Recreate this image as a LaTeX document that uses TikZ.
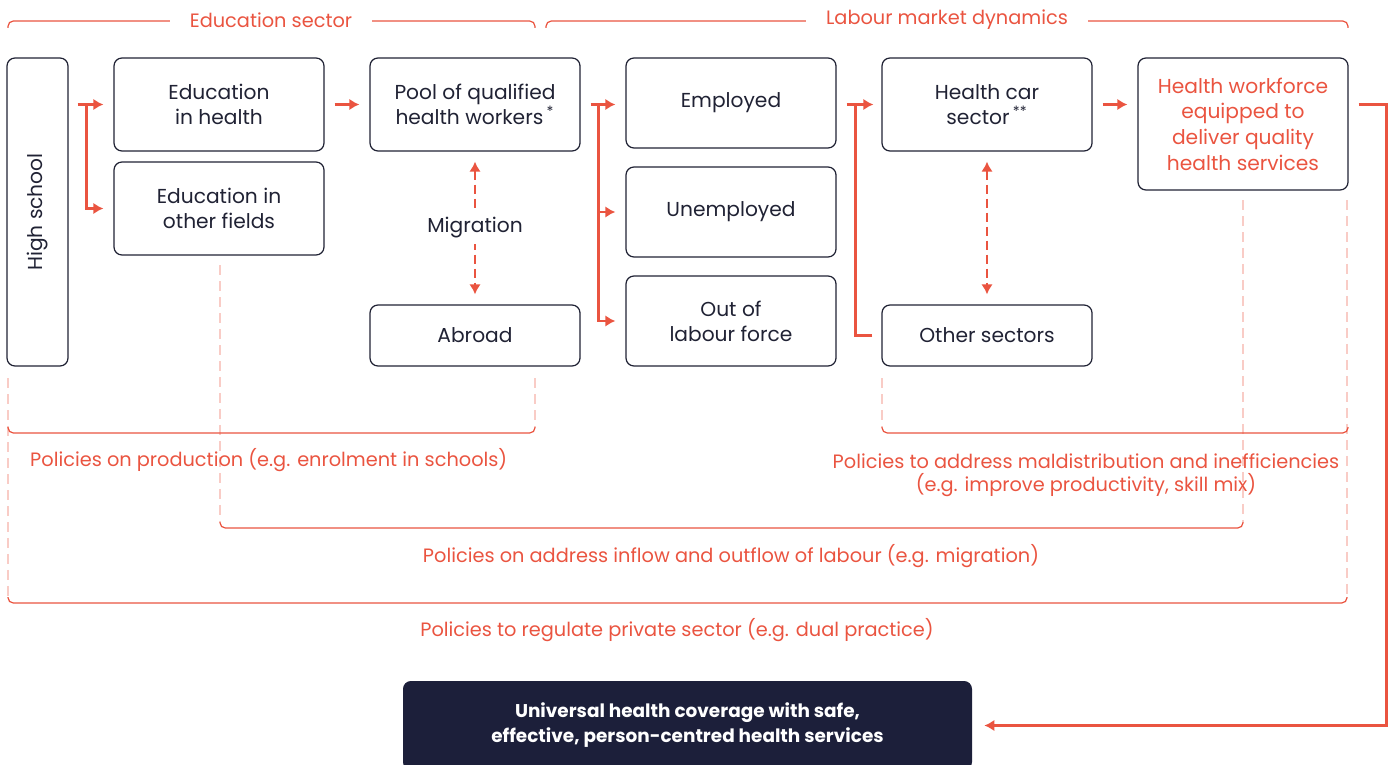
\documentclass[tikz,border=0pt]{standalone}
\usepackage{fontspec}
\setmainfont{Poppins}
\usetikzlibrary{positioning,arrows.meta,calc}
\definecolor{coral}{RGB}{234,84,64}
\definecolor{ink}{RGB}{32,34,52}
\definecolor{midnight}{RGB}{28,31,58}
\tikzset{
  box/.style={draw=ink,rounded corners=4.5pt,align=center,text=ink,line width=0.7pt,
    font=\fontsize{11.5}{14.2}\selectfont,minimum width=4.2cm,inner sep=2pt},
  goal/.style={box,text=coral,font=\fontsize{11.5}{14.6}\selectfont},
  uhcbox/.style={fill=midnight,rounded corners=4.5pt,align=center,text=white,
    font=\bfseries\fontsize{10.5}{14.2}\selectfont,minimum width=11.38cm,minimum height=1.78cm},
  flow/.style={-{Latex[length=2mm,width=2.3mm]},coral,line width=1.3pt},
  link/.style={coral,line width=1.3pt},
  mig/.style={{Latex[length=2mm,width=2.3mm]}-{Latex[length=2mm,width=2.3mm]},coral,line width=1.3pt,
    dash pattern=on 0.18cm off 0.1cm,shorten <=0.2cm,shorten >=0.2cm},
  guide/.style={coral!30,line width=1.1pt,dash pattern=on 0.2cm off 0.12cm},
  brace/.style={coral,line width=0.7pt,rounded corners=3pt},
  policy/.style={coral,align=center,font=\fontsize{11}{12.8}\selectfont},
}

\begin{document}
\begin{tikzpicture}
  \useasboundingbox (0,0) rectangle (27.88,-15.3);
  % sector headers
  \draw[brace] (0.16,-0.56) -- (0.16,-0.42) -- (10.7,-0.42) -- (10.7,-0.56);
  \draw[brace] (10.92,-0.56) -- (10.92,-0.42) -- (26.96,-0.42) -- (26.96,-0.56);
  \node[policy,fill=white,inner xsep=0.4cm] (edsec) at (5.42,-0.4) {Education sector};
  \node[policy,fill=white,inner xsep=0.4cm] (labsec) at (18.94,-0.4) {Labour market dynamics};

  % boxes
  \node[box,rotate=90,minimum width=6.16cm,minimum height=1.22cm] (hs) at (0.75,-4.24) {High school};
  \node[box,minimum height=1.86cm] (edh) at (4.38,-2.09) {Education\\in health};
  \node[box,minimum height=1.86cm] (edo) at (4.38,-4.17) {Education in\\other fields};
  \node[box,minimum height=1.86cm] (pool) at (9.5,-2.09) {Pool of qualified\\health workers\,\textsuperscript{*}};
  \node[box,minimum height=1.22cm] (abr) at (9.5,-6.71) {Abroad};
  \node[box,minimum height=1.8cm] (emp) at (14.62,-2.06) {Employed};
  \node[box,minimum height=1.8cm] (unemp) at (14.62,-4.24) {Unemployed};
  \node[box,minimum height=1.8cm] (olf) at (14.62,-6.42) {Out of\\labour force};
  \node[box,minimum height=1.86cm] (hcs) at (19.74,-2.09) {Health car\\sector\,\textsuperscript{**}};
  \node[box,minimum height=1.22cm] (oth) at (19.74,-6.71) {Other sectors};
  \node[goal,minimum height=2.64cm] (hwf) at (24.86,-2.48) {Health workforce\\equipped to\\deliver quality\\health services};
  \node[uhcbox] (uhc) at (13.75,-14.51) {Universal health coverage with safe,\\effective, person-centred health services};

  % flows
  \coordinate (hsj) at ([xshift=0.36cm]hs.south |- edh.west);
  \draw[flow] ([xshift=0.18cm]hs.south |- edh.west) -- ([xshift=-0.2cm]edh.west);
  \draw[flow] (hsj) |- ([xshift=-0.2cm]edo.west);
  \draw[flow] ([xshift=0.2cm]edh.east) -- ([xshift=-0.2cm]pool.west);
  \coordinate (pj) at ([xshift=0.36cm]pool.east);
  \draw[flow] ([xshift=0.2cm]pool.east) -- ([xshift=-0.2cm]pool.east -| emp.west);
  \draw[flow] (pj) |- ([xshift=-0.2cm]unemp.west);
  \draw[flow] (pj) |- ([xshift=-0.2cm]olf.west);
  \coordinate (hj) at ([xshift=0.38cm]emp.east |- hcs.west);
  \draw[flow] ([xshift=0.2cm]emp.east |- hcs.west) -- ([xshift=-0.16cm]hcs.west);
  \draw[link] ([xshift=-0.18cm]oth.west) -| (hj);
  \draw[flow] ([xshift=0.2cm]hcs.east) -- ([xshift=-0.2cm]hcs.east -| hwf.west);
  \coordinate (rt) at ([xshift=0.76cm]hwf.east |- hcs.east);
  \draw[flow] ([xshift=0.2cm]hwf.east |- hcs.east) -- (rt) |- ([xshift=0.24cm]uhc.east);
  \draw[mig] (pool.south) -- node[fill=white,text=ink,font=\fontsize{11.5}{14.2}\selectfont] (migr) {Migration} (abr.north);
  \draw[mig] (hcs.south) -- (oth.north);

  % policy guides
  \draw[guide] (0.16,-7.56) -- (0.16,-11.96);
  \draw[guide] (4.4,-5.3) -- (4.4,-10.44);
  \draw[guide] (10.7,-7.56) -- (10.7,-8.54);
  \draw[guide] (17.64,-7.56) -- (17.64,-8.54);
  \draw[guide] (24.86,-4.0) -- (24.86,-10.44);
  \draw[guide] (26.94,-4.0) -- (26.94,-11.94);
  \draw[brace] (0.16,-8.54) -- (0.16,-8.66) -- (10.7,-8.66) -- (10.7,-8.54);
  \draw[brace] (17.64,-8.54) -- (17.64,-8.66) -- (26.96,-8.66) -- (26.96,-8.54);
  \draw[brace] (4.4,-10.44) -- (4.4,-10.56) -- (24.86,-10.56) -- (24.86,-10.44);
  \draw[brace] (0.16,-11.94) -- (0.16,-12.06) -- (26.94,-12.06) -- (26.94,-11.94);
  \node[policy,anchor=west] (pprod) at (0.48,-9.2) {Policies on production (e.g. enrolment in schools)};
  \node[policy] (pmal) at (21.72,-9.5) {Policies to address maldistribution and inefficiencies\\(e.g. improve productivity, skill mix)};
  \node[policy] (pflow) at (14.62,-11.12) {Policies on address inflow and outflow of labour (e.g. migration)};
  \node[policy] (ppriv) at (13.54,-12.6) {Policies to regulate private sector (e.g. dual practice)};
\end{tikzpicture}
\end{document}
